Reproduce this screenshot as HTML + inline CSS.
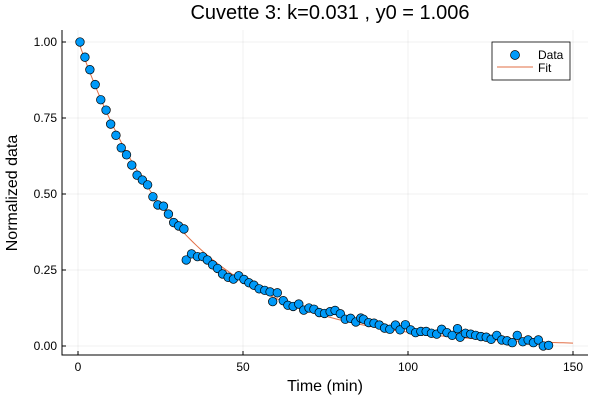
<!DOCTYPE html>
<html><head><meta charset="utf-8"><style>
body{margin:0;background:#fff;}
svg text{font-family:"Liberation Sans","DejaVu Sans",sans-serif;}
</style></head><body>
<svg id="c" width="600" height="400" xmlns="http://www.w3.org/2000/svg">
<rect width="600" height="400" fill="#fff"/>
<text x="330" y="19" font-size="20" text-anchor="middle" fill="#000">Cuvette 3: k=0.031 , y0 = 1.006</text>
<g id="grid"></g>
<g id="fit"></g>
<g id="pts"></g>
<g id="axes"></g>
<text x="325" y="391" font-size="16" text-anchor="middle">Time (min)</text>
<text x="17" y="193" font-size="16" text-anchor="middle" transform="rotate(-90 17 193)">Normalized data</text>
<g>
<rect x="492" y="42" width="78" height="38" fill="#fff" stroke="#000" stroke-width="0.8"/>
<circle cx="515" cy="55" r="4.5" fill="#009af9" stroke="#000" stroke-width="0.7"/>
<text x="538" y="59" font-size="12">Data</text>
<line x1="497" y1="67" x2="533" y2="67" stroke="#e26f46" stroke-width="1"/>
<text x="538" y="72" font-size="12">Fit</text>
</g>
</svg>
<script>
const times=[0.6,2.1,3.6,5.2,6.9,8.5,9.9,11.5,13.1,14.7,16.3,17.9,19.5,21.1,22.7,24.2,25.9,27.4,29,30.5,32.1,32.8,34.4,36.2,37.8,39.2,40.8,42.3,43.8,45.5,47.1,48.7,50.3,51.8,53.3,54.9,56.6,58.2,59,60.4,62.2,63.6,65.2,66.9,68.4,70,71.5,73.1,74.7,76.4,77.9,79.5,81,82.6,84.2,85.7,86.5,88.1,89.7,91.3,92.9,94.5,96.2,97.6,99.2,100.8,102.3,103.9,105.5,107.1,108.7,110.2,111.8,113.4,115,115.8,117.4,119,120.5,122.1,123.7,125.2,126.9,128.4,130,131.6,133.1,134.8,136.4,138,139.5,141,142.6];
const values=[1.0,0.95,0.909,0.86,0.81,0.776,0.73,0.693,0.652,0.629,0.595,0.562,0.546,0.53,0.491,0.464,0.46,0.434,0.406,0.395,0.385,0.283,0.303,0.294,0.294,0.283,0.267,0.255,0.237,0.226,0.22,0.231,0.219,0.208,0.2,0.188,0.183,0.178,0.146,0.175,0.149,0.134,0.13,0.138,0.118,0.125,0.121,0.11,0.107,0.113,0.117,0.106,0.088,0.091,0.079,0.092,0.088,0.077,0.075,0.069,0.059,0.055,0.069,0.053,0.07,0.053,0.044,0.048,0.048,0.042,0.039,0.055,0.044,0.035,0.057,0.029,0.042,0.039,0.035,0.031,0.029,0.022,0.035,0.02,0.017,0.011,0.035,0.014,0.02,0.011,0.02,0.0,0.002];
const fitK=0.031, fitY0=1.006, fitTmax=150;
const xTicks=[0,50,100,150];
const xTickLabels=["0","50","100","150"];
const yTicks=[0,0.25,0.5,0.75,1];
const yTickLabels=["0.00","0.25","0.50","0.75","1.00"];
const NS="http://www.w3.org/2000/svg";
const X=t=>78+t*3.3, Y=v=>346-v*304;
const L=62,R=588,T=30,B=355;
function mk(tag,attrs,parent){const e=document.createElementNS(NS,tag);for(const k in attrs)e.setAttribute(k,attrs[k]);parent.appendChild(e);return e;}
const grid=document.getElementById('grid'),axes=document.getElementById('axes');
xTicks.forEach((t,i)=>{
 const g=mk('line',{x1:X(t),x2:X(t),y1:T,y2:B,stroke:'#000','stroke-opacity':0.1,'stroke-width':0.6},grid);
 
 
 const tk=mk('line',{x1:X(t),x2:X(t),y1:B,y2:B-4,stroke:'#000','stroke-width':1},axes);
 
 
 const tx=mk('text',{x:X(t),y:B+16,'font-size':12,'text-anchor':'middle'},axes);
 tx.textContent=xTickLabels[i];
 
 
});
yTicks.forEach((v,i)=>{
 const g=mk('line',{x1:L,x2:R,y1:Y(v),y2:Y(v),stroke:'#000','stroke-opacity':0.1,'stroke-width':0.6},grid);
 
 
 const tk=mk('line',{x1:L,x2:L+4,y1:Y(v),y2:Y(v),stroke:'#000','stroke-width':1},axes);
 
 
 const tx=mk('text',{x:L-5,y:Y(v)+4,'font-size':12,'text-anchor':'end'},axes);
 tx.textContent=yTickLabels[i];
 
 
});
const ax=mk('path',{d:`M${L},${T}V${B}H${R}`,fill:'none',stroke:'#000','stroke-width':1},axes);


let d='';
for(let i=0;i<=150;i++){const t=fitTmax*i/150;d+=(i?'L':'M')+X(t).toFixed(2)+','+Y(fitY0*Math.exp(-fitK*t)).toFixed(2);}
const fl=mk('path',{d:d,fill:'none',stroke:'#e26f46','stroke-width':1},document.getElementById('fit'));


const pts=document.getElementById('pts');
times.forEach((t,i)=>{
 const c=mk('circle',{cx:X(t),cy:Y(values[i]),r:4.3,fill:'#009af9',stroke:'#000','stroke-width':0.7},pts);
 
 
});
</script>
</body></html>
